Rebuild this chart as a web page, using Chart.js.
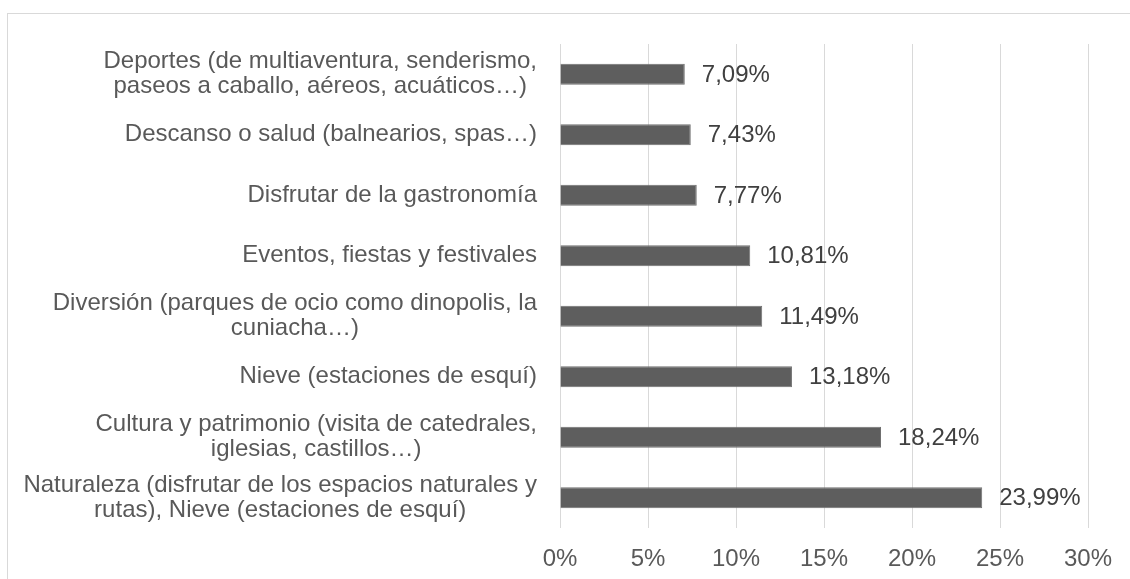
<!DOCTYPE html>
<html>
<head>
<meta charset="utf-8">
<script src="https://cdn.jsdelivr.net/npm/chart.js@4"></script>
<style>
  html, body { margin: 0; padding: 0; background: #fff; overflow: hidden; }
  #frame { position: absolute; left: 7px; top: 13px; width: 1200px; height: 700px; border: 1px solid #d9d9d9; }
  #wrap { position: absolute; left: 0; top: 0; width: 1130px; height: 579px; }
</style>
</head>
<body>
<div id="frame"></div>
<div id="wrap"><canvas id="chart"></canvas></div>
<script>
  var categories = [
    ['Deportes (de multiaventura, senderismo,', 'paseos a caballo, aéreos, acuáticos…)'],
    ['Descanso o salud (balnearios, spas…)'],
    ['Disfrutar de la gastronomía'],
    ['Eventos, fiestas y festivales'],
    ['Diversión (parques de ocio como dinopolis, la', 'cuniacha…)'],
    ['Nieve (estaciones de esquí)'],
    ['Cultura y patrimonio (visita de catedrales,', 'iglesias, castillos…)'],
    ['Naturaleza (disfrutar de los espacios naturales y', 'rutas), Nieve (estaciones de esquí)']
  ];
  var values = [7.09, 7.43, 7.77, 10.81, 11.49, 13.18, 18.24, 23.99];
  var xTicks = [0, 5, 10, 15, 20, 25, 30];

  var FONT = '"Liberation Sans", Arial, sans-serif';

  // category labels: block right aligned, lines centred inside the block
  var categoryLabels = {
    id: 'categoryLabels',
    afterDraw: function (chart) {
      var ctx = chart.ctx;
      var yScale = chart.scales.y;
      var right = chart.chartArea.left - 23;
      var lh = 25;
      ctx.save();
      ctx.font = '24px ' + FONT;
      ctx.fillStyle = '#595959';
      ctx.textAlign = 'center';
      ctx.textBaseline = 'middle';
      categories.forEach(function (lines, i) {
        var w = 0;
        lines.forEach(function (l) { w = Math.max(w, ctx.measureText(l).width); });
        var cx = right - w / 2;
        var cy = yScale.getPixelForValue(i);
        var y0 = cy - (lines.length - 1) * lh / 2;
        lines.forEach(function (l, k) { ctx.fillText(l, cx, y0 + k * lh); });
      });
      ctx.restore();
    }
  };

  // value labels right of each bar
  var valueLabels = {
    id: 'valueLabels',
    afterDatasetsDraw: function (chart) {
      var ctx = chart.ctx;
      var meta = chart.getDatasetMeta(0);
      ctx.save();
      ctx.font = '24px ' + FONT;
      ctx.fillStyle = '#404040';
      ctx.textAlign = 'left';
      ctx.textBaseline = 'middle';
      meta.data.forEach(function (bar, i) {
        ctx.fillText(values[i].toFixed(2).replace('.', ',') + '%', bar.x + 17, bar.y + 1);
      });
      ctx.restore();
    }
  };

  new Chart(document.getElementById('chart'), {
    type: 'bar',
    data: {
      labels: categories,
      datasets: [{
        data: values,
        backgroundColor: '#5e5e5e',
        borderColor: '#707070',
        borderWidth: 1,
        categoryPercentage: 1,
        barPercentage: 0.35
      }]
    },
    options: {
      indexAxis: 'y',
      responsive: true,
      maintainAspectRatio: false,
      animation: false,
      layout: { padding: { top: 44, right: 42, left: 0, bottom: 0 } },
      plugins: { legend: { display: false }, tooltip: { enabled: false } },
      scales: {
        x: {
          min: 0,
          max: 30,
          afterBuildTicks: function (axis) {
            axis.ticks = xTicks.map(function (v) { return { value: v }; });
          },
          afterFit: function (axis) {
            axis.height = 51;
            axis.paddingLeft = 0;
            axis.paddingRight = 0;
          },
          grid: { color: '#d9d9d9', lineWidth: 1, drawTicks: false },
          border: { display: false },
          ticks: {
            padding: 17,
            color: '#595959',
            font: { family: FONT, size: 24 },
            callback: function (v) { return v + '%'; }
          }
        },
        y: {
          grid: { display: false },
          border: { display: false },
          ticks: { display: false },
          afterFit: function (axis) { axis.width = 560; }
        }
      }
    },
    plugins: [categoryLabels, valueLabels]
  });
</script>
</body>
</html>
